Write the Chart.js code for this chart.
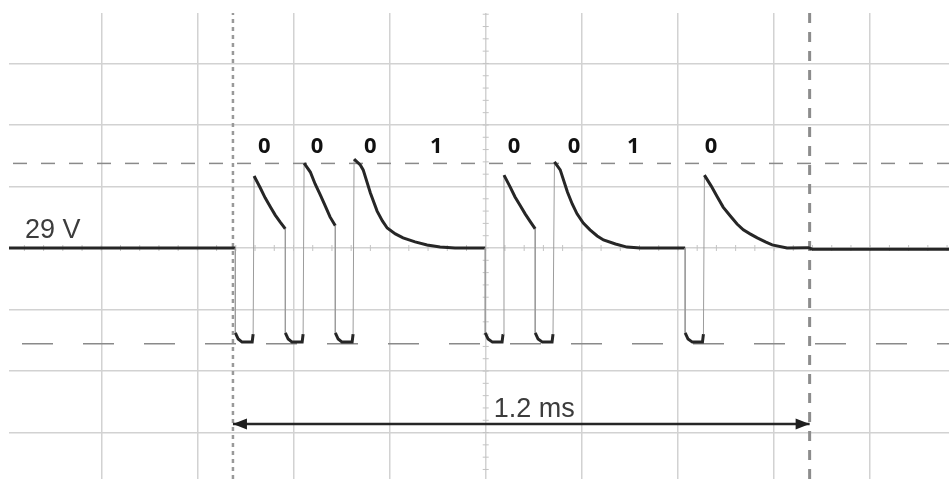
<!DOCTYPE html>
<html>
<head>
<meta charset="utf-8">
<script src="https://cdn.jsdelivr.net/npm/chart.js@4.4.1/dist/chart.umd.min.js"></script>
<style>
  html, body { margin: 0; padding: 0; background: #fff; }
  #wrap { width: 949px; height: 479px; position: relative; }
</style>
</head>
<body>
<div id="wrap"><canvas id="scope"></canvas></div>
<script>
// time in ms (0 = screen centre), voltage in V
const traceTime = [
  -0.992, -0.521, -0.521, -0.515, -0.507, -0.486, -0.484, -0.482,
  -0.469, -0.459, -0.448, -0.438, -0.428, -0.417,
  -0.417, -0.411, -0.403, -0.382, -0.380, -0.378,
  -0.365, -0.355, -0.344, -0.334, -0.324, -0.313,
  -0.313, -0.307, -0.299, -0.278, -0.276, -0.274,
  -0.261, -0.255, -0.240, -0.226, -0.215, -0.205, -0.188, -0.172, -0.147, -0.122, -0.095, -0.064, -0.001,
  -0.001, 0.005, 0.014, 0.034, 0.036, 0.038,
  0.051, 0.061, 0.072, 0.082, 0.093, 0.103,
  0.103, 0.109, 0.118, 0.138, 0.140, 0.143,
  0.155, 0.170, 0.180, 0.190, 0.203, 0.217, 0.232, 0.245, 0.270, 0.294, 0.322, 0.415,
  0.415, 0.421, 0.430, 0.451, 0.453, 0.455,
  0.469, 0.482, 0.494, 0.509, 0.523, 0.536, 0.550, 0.565, 0.582, 0.596, 0.627, 0.671, 0.680, 0.964
];
const traceVolts = [
  29.0, 29.0, 1.4, -0.6, -1.6, -1.6, 1.0, 52.4,
  48.5, 45.3, 42.3, 39.7, 37.5, 35.2,
  1.4, -0.6, -1.6, -1.6, 1.0, 56.6,
  53.7, 49.8, 46.2, 42.7, 39.1, 36.2,
  1.4, -0.6, -1.6, -1.6, 1.0, 57.9,
  56.0, 54.4, 46.9, 41.0, 37.8, 35.5, 33.6, 32.3, 31.0, 30.0, 29.3, 29.0, 29.0,
  1.4, -0.6, -1.6, -1.6, 1.0, 52.7,
  48.8, 45.6, 42.7, 40.1, 37.5, 35.2,
  1.4, -0.6, -1.6, -1.6, 1.0, 57.0,
  54.4, 47.2, 43.3, 40.1, 37.1, 34.9, 32.9, 31.6, 30.3, 29.3, 29.0, 29.0,
  1.4, -0.6, -1.6, -1.6, 1.0, 52.7,
  49.2, 45.6, 42.3, 39.4, 36.8, 34.9, 33.6, 32.3, 31.0, 30.0, 29.0, 29.1, 28.6, 28.6
];

const bitLabels = ['0', '0', '0', '1', '0', '0', '1', '0'];
const bitTimes = [-0.461, -0.351, -0.240, -0.103, 0.059, 0.184, 0.307, 0.469];
const bitLevel = 61.8;

const baseLevel = 29;
const cursorStart = -0.526;
const cursorSpan = 1.2;
const cursorEnd = cursorStart + cursorSpan;
const levelHigh = 56.5;
const levelLow = -2.1;
const arrowLevel = -28.2;

const timeMin = -0.992, timeMax = 0.964;
const voltMin = -46.1, voltMax = 105.4;
const timePerDiv = 0.2, voltsPerDiv = 20;

const tracePoints = traceTime.map((t, i) => ({ x: t, y: traceVolts[i] }));

function isEdge(ctx) {
  return Math.abs(traceVolts[ctx.p1DataIndex] - traceVolts[ctx.p0DataIndex]) > 15;
}

function gridTicks(scale, centre, step) {
  const ticks = [];
  for (let k = -6; k <= 6; k++) {
    const v = centre + k * step;
    if (v > scale.min && v < scale.max) ticks.push({ value: v });
  }
  scale.ticks = ticks;
}

const gridColor = '#d2d2d2';

const scopeDecor = {
  id: 'scopeDecor',
  beforeDatasetsDraw(chart) {
    const { ctx, scales: { x, y } } = chart;
    const cx = x.getPixelForValue(0);
    const cy = y.getPixelForValue(baseLevel);
    ctx.save();
    ctx.strokeStyle = '#c4c4c4';
    ctx.lineWidth = 1;
    ctx.beginPath();
    // minor ticks on the centre lines, 5 per division
    const minorV = voltsPerDiv / 5;
    for (let k = Math.ceil((voltMin - baseLevel) / minorV); baseLevel + k * minorV <= voltMax; k++) {
      const py = y.getPixelForValue(baseLevel + k * minorV);
      ctx.moveTo(cx - 3, py); ctx.lineTo(cx + 3, py);
    }
    const minorT = timePerDiv / 5;
    for (let k = Math.ceil(timeMin / minorT); k * minorT <= timeMax; k++) {
      const px = x.getPixelForValue(k * minorT);
      ctx.moveTo(px, cy - 3); ctx.lineTo(px, cy + 3);
    }
    ctx.stroke();
    ctx.restore();
  },
  afterDatasetsDraw(chart) {
    const { ctx, scales: { x, y }, chartArea } = chart;
    ctx.save();
    // arrow heads
    const ay = y.getPixelForValue(arrowLevel);
    const x0 = x.getPixelForValue(cursorStart);
    const x1 = x.getPixelForValue(cursorEnd);
    ctx.fillStyle = '#1e1e1e';
    ctx.beginPath();
    ctx.moveTo(x0, ay); ctx.lineTo(x0 + 14, ay - 5.5); ctx.lineTo(x0 + 14, ay + 5.5); ctx.closePath();
    ctx.moveTo(x1, ay); ctx.lineTo(x1 - 14, ay - 5.5); ctx.lineTo(x1 - 14, ay + 5.5); ctx.closePath();
    ctx.fill();

    // text
    ctx.fillStyle = '#3c3c3c';
    ctx.font = '27px "Liberation Sans", Arial, sans-serif';
    ctx.textAlign = 'left';
    ctx.textBaseline = 'alphabetic';
    ctx.fillText(baseLevel + ' V', chartArea.left + 16, y.getPixelForValue(baseLevel) - 10);
    ctx.fillText(cursorSpan.toFixed(1) + ' ms', x.getPixelForValue(0) + 8, ay - 7);

    ctx.fillStyle = '#111';
    ctx.font = 'bold 22px "Noto Sans", "Open Sans", sans-serif';
    ctx.textAlign = 'center';
    ctx.textBaseline = 'middle';
    bitLabels.forEach((b, i) => {
      ctx.fillText(b, x.getPixelForValue(bitTimes[i]), y.getPixelForValue(bitLevel));
    });
    ctx.restore();
  }
};

new Chart(document.getElementById('scope'), {
  type: 'line',
  data: {
    datasets: [
      {
        label: 'trace',
        data: tracePoints,
        borderColor: '#262626',
        borderWidth: 3,
        pointRadius: 0,
        tension: 0,
        segment: {
          borderColor: ctx => isEdge(ctx) ? '#9c9c9c' : '#262626',
          borderWidth: ctx => isEdge(ctx) ? 1 : 3
        }
      },
      {
        label: 'span',
        data: [{ x: cursorStart, y: arrowLevel }, { x: cursorEnd, y: arrowLevel }],
        borderColor: '#262626',
        borderWidth: 2.5,
        pointRadius: 0
      },
      {
        label: 'cursor left',
        data: [{ x: cursorStart, y: voltMin }, { x: cursorStart, y: voltMax }],
        borderColor: '#999999',
        borderWidth: 2.5,
        borderDash: [4, 4],
        pointRadius: 0
      },
      {
        label: 'cursor right',
        data: [{ x: cursorEnd, y: voltMin }, { x: cursorEnd, y: voltMax }],
        borderColor: '#8c8c8c',
        borderWidth: 3,
        borderDash: [10, 9],
        pointRadius: 0
      },
      {
        label: 'level high',
        data: [{ x: timeMin, y: levelHigh }, { x: timeMax, y: levelHigh }],
        borderColor: '#8a8a8a',
        borderWidth: 1.5,
        borderDash: [14, 14],
        borderDashOffset: 24,
        pointRadius: 0
      },
      {
        label: 'level low',
        data: [{ x: timeMin, y: levelLow }, { x: timeMax, y: levelLow }],
        borderColor: '#8a8a8a',
        borderWidth: 1.5,
        borderDash: [31, 30],
        borderDashOffset: 48,
        pointRadius: 0
      }
    ]
  },
  options: {
    responsive: true,
    maintainAspectRatio: false,
    animation: false,
    events: [],
    layout: { padding: { left: 9, top: 13, right: 0, bottom: 0 } },
    plugins: { legend: { display: false }, tooltip: { enabled: false } },
    scales: {
      x: {
        type: 'linear',
        min: timeMin,
        max: timeMax,
        ticks: { display: false },
        border: { display: false },
        grid: { color: gridColor, lineWidth: 1.5, drawTicks: false },
        afterBuildTicks: s => gridTicks(s, 0, timePerDiv),
        afterFit: s => { s.height = 0; }
      },
      y: {
        type: 'linear',
        min: voltMin,
        max: voltMax,
        ticks: { display: false },
        border: { display: false },
        grid: { color: gridColor, lineWidth: 1.5, drawTicks: false },
        afterBuildTicks: s => gridTicks(s, baseLevel, voltsPerDiv),
        afterFit: s => { s.width = 0; }
      }
    }
  },
  plugins: [scopeDecor]
});
</script>
</body>
</html>
